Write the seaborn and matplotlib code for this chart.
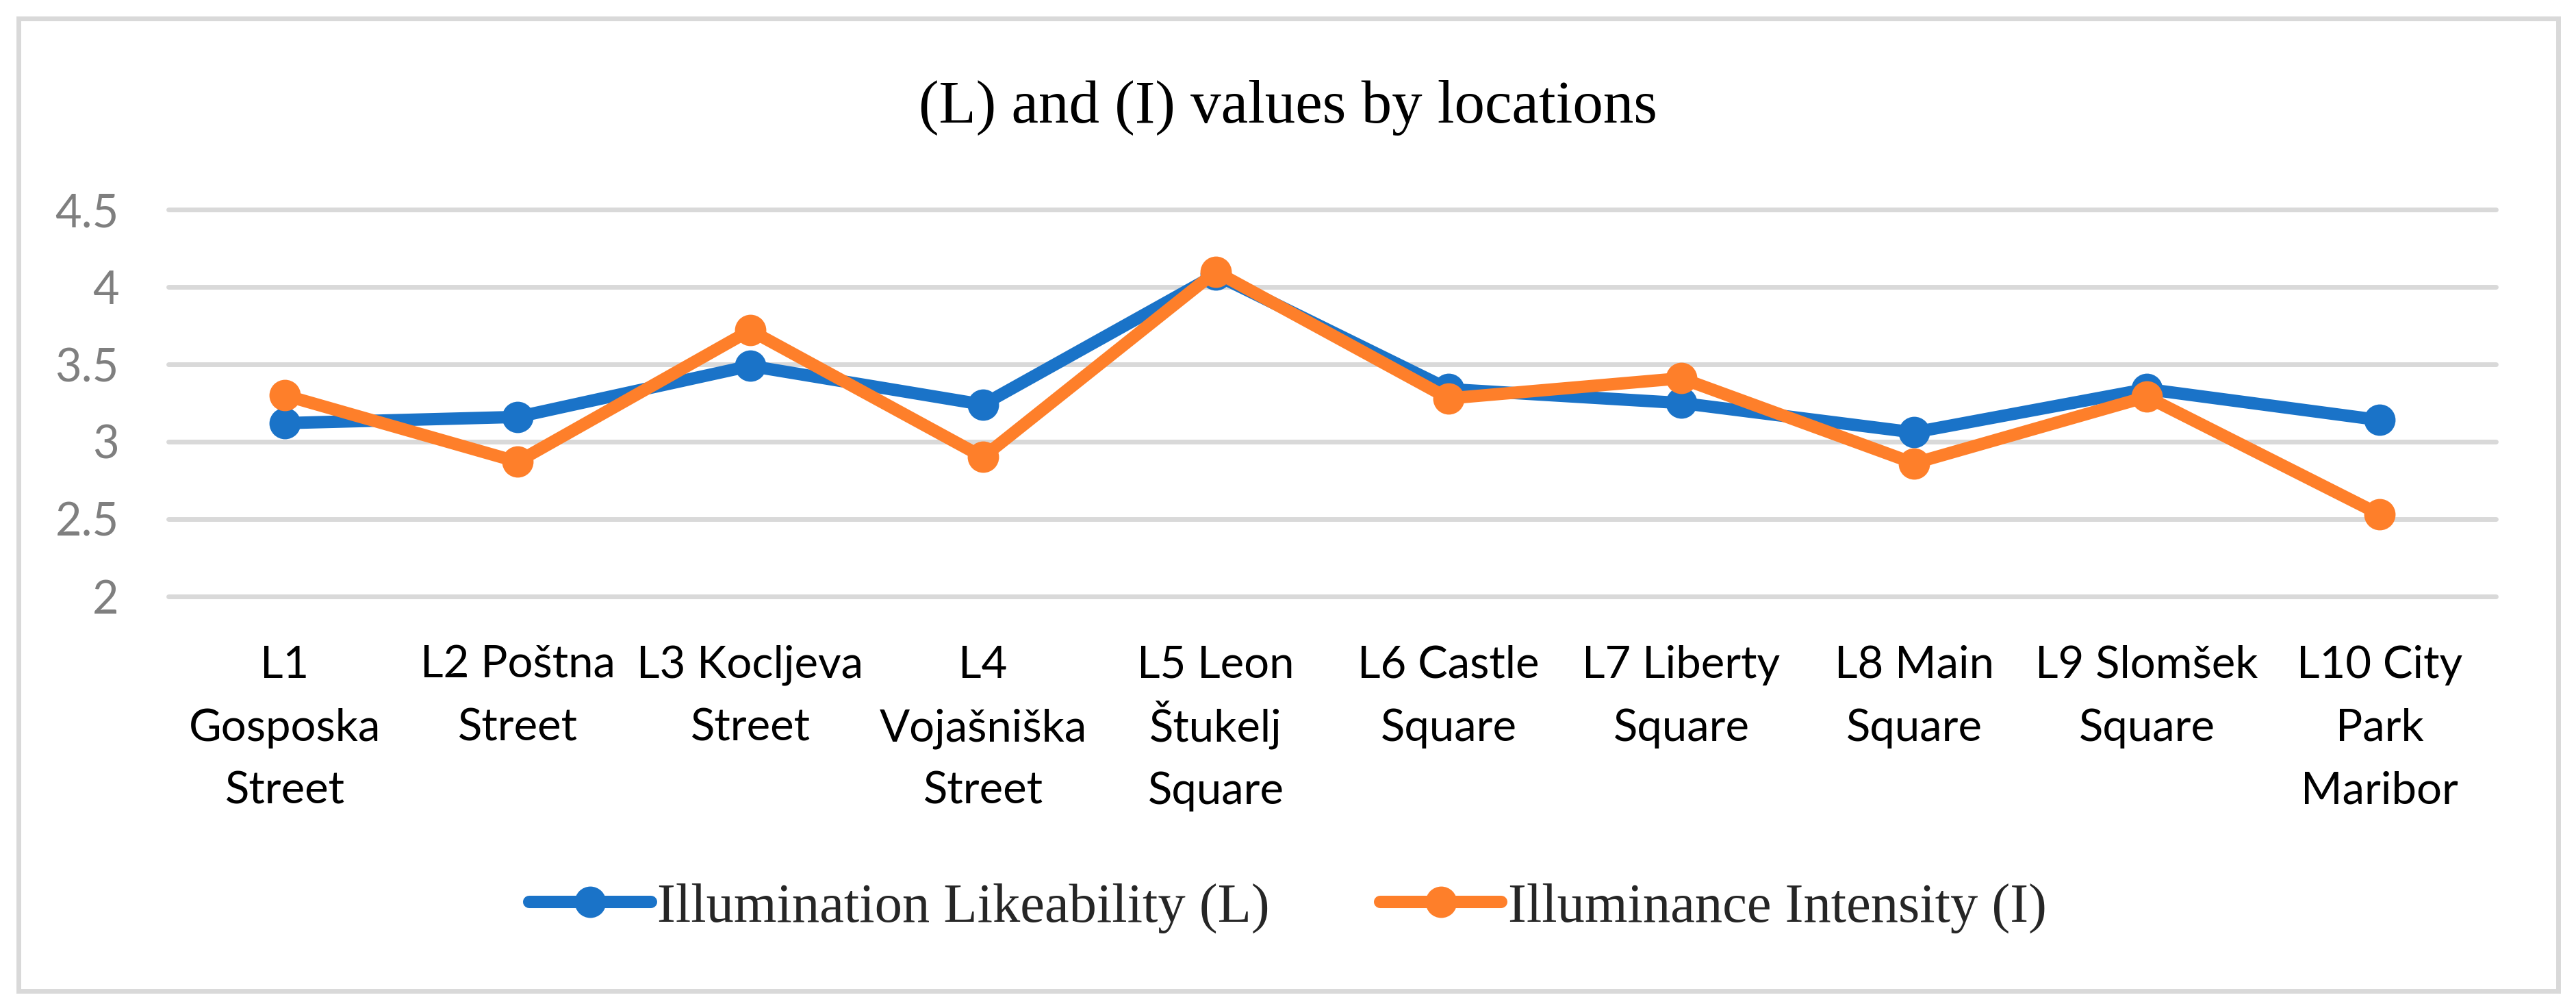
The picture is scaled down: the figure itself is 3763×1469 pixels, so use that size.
import matplotlib
matplotlib.use("Agg")
import matplotlib.pyplot as plt
import matplotlib.transforms as mtransforms
from matplotlib.lines import Line2D
from matplotlib.patches import Rectangle
import seaborn as sns
import pandas as pd

# ---- data ----
locations = [
    "L1\nGosposka\nStreet",
    "L2 Poštna\nStreet",
    "L3 Kocljeva\nStreet",
    "L4\nVojašniška\nStreet",
    "L5 Leon\nŠtukelj\nSquare",
    "L6 Castle\nSquare",
    "L7 Liberty\nSquare",
    "L8 Main\nSquare",
    "L9 Slomšek\nSquare",
    "L10 City\nPark\nMaribor",
]
likeability = [3.12, 3.16, 3.49, 3.24, 4.08, 3.34, 3.25, 3.06, 3.34, 3.14]
intensity = [3.30, 2.87, 3.72, 2.90, 4.10, 3.28, 3.41, 2.86, 3.29, 2.53]
series_names = ["Illumination Likeability (L)", "Illuminance Intensity (I)"]
y_ticks = [2, 2.5, 3, 3.5, 4, 4.5]
y_tick_labels = ["2", "2.5", "3", "3.5", "4", "4.5"]
title_text = "(L) and (I) values by locations"

colors = ["#1A73C8", "#FE7F2A"]

df = pd.DataFrame({
    "location": locations * 2,
    "value": likeability + intensity,
    "series": [series_names[0]] * len(locations) + [series_names[1]] * len(locations),
})

sns.set_theme(style="white")
plt.rcParams["font.family"] = ["Lato", "DejaVu Sans"]

W, H = 3763, 1469
fig = plt.figure(figsize=(W / 100, H / 100), dpi=100)
ax_bottom_px = 870.6
ax = fig.add_axes([246 / W, 1 - ax_bottom_px / H, (3646 - 246) / W, (ax_bottom_px - 306.4) / H])

sns.lineplot(
    data=df, x="location", y="value", hue="series", hue_order=series_names,
    palette=colors, style="series", markers=["o", "o"], dashes=False,
    linewidth=13, markersize=33, markeredgewidth=0, sort=False, legend=False, ax=ax,
)

ax.set_xlim(-0.5, len(locations) - 0.5)
ax.set_ylim(2, 4.5)
ax.set_yticks(y_ticks)
ax.set_yticklabels(y_tick_labels)
ax.set_xticks(range(len(locations)))
ax.set_xticklabels([""] * len(locations))
ax.set_xlabel("")
ax.set_ylabel("")
for s in ax.spines.values():
    s.set_visible(False)
ax.yaxis.grid(True, color="#D9D9D9", linewidth=5)
ax.xaxis.grid(False)
ax.set_axisbelow(True)
for gl in ax.get_ygridlines():
    gl.set_clip_on(False)
ax.tick_params(axis="both", length=0)
ax.tick_params(axis="y", pad=52, labelsize=48, labelcolor="#7F7F7F")

# category labels: each wrapped line placed on a common baseline grid
base = mtransforms.blended_transform_factory(ax.transData, ax.transAxes)
first_baseline_px = 119.4
line_step_px = 92
for i, lab in enumerate(locations):
    for j, line in enumerate(lab.split("\n")):
        off = mtransforms.ScaledTranslation(
            0, -(first_baseline_px + j * line_step_px) / 100, fig.dpi_scale_trans)
        ax.text(i, 0, line, transform=base + off, ha="center", va="baseline",
                fontsize=47, color="#000000", clip_on=False)

fig.text(0.5, 1 - 157 / H, title_text, ha="center", va="center",
         fontsize=64, family=["Liberation Serif", "DejaVu Serif"], color="#000000")

handles = [
    Line2D([0], [0], color=c, linewidth=13, marker="o", markersize=33, markeredgewidth=0)
    for c in colors
]
fig.legend(handles, series_names, loc="center", bbox_to_anchor=(0.5, 1 - 1326 / H),
           ncol=2, frameon=False, handlelength=2.2, handletextpad=0.12, columnspacing=2.0,
           prop={"family": ["Liberation Serif", "DejaVu Serif"], "size": 58})

fig.patches.append(Rectangle((27 / W, 1 - 1447 / H), (3737 - 27) / W, (1447 - 27) / H,
                             transform=fig.transFigure, fill=False,
                             edgecolor="#D9D9D9", linewidth=5))

fig.savefig("out.png", dpi=100, facecolor="white")
